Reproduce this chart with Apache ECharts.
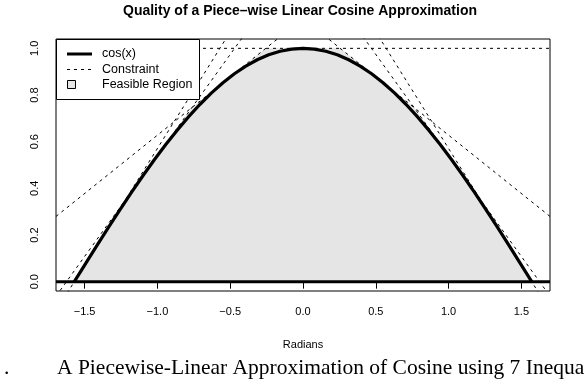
<!DOCTYPE html>
<html>
<head>
<meta charset="utf-8">
<script src="https://cdn.jsdelivr.net/npm/echarts@6/dist/echarts.min.js"></script>
<style>html,body{margin:0;padding:0;background:#fff}#c{width:584px;height:384px}</style>
</head>
<body>
<div id="c"></div>
<script>
// ---- data ----
var radians = [-1.5708,-1.4923,-1.4137,-1.3352,-1.2566,-1.1781,-1.0996,-1.0210,-0.9425,-0.8639,-0.7854,-0.7069,-0.6283,-0.5498,-0.4712,-0.3927,-0.3142,-0.2356,-0.1571,-0.0785,0,0.0785,0.1571,0.2356,0.3142,0.3927,0.4712,0.5498,0.6283,0.7069,0.7854,0.8639,0.9425,1.0210,1.0996,1.1781,1.2566,1.3352,1.4137,1.4923,1.5708];
var cosValues = [0,0.0785,0.1564,0.2334,0.3090,0.3827,0.4540,0.5225,0.5878,0.6494,0.7071,0.7604,0.8090,0.8526,0.8910,0.9239,0.9511,0.9724,0.9877,0.9969,1,0.9969,0.9877,0.9724,0.9511,0.9239,0.8910,0.8526,0.8090,0.7604,0.7071,0.6494,0.5878,0.5225,0.4540,0.3827,0.3090,0.2334,0.1564,0.0785,0];
// constraints: y <= intercept + slope * x  (tangents at 0, ±pi/6, ±pi/3, ±pi/2)
var constraintSlope = [0,-0.5,0.5,-0.866,0.866,-1,1];
var constraintIntercept = [1,1.1278,1.1278,1.4069,1.4069,1.5708,1.5708];
// feasible region vertices
var feasibleX = [-1.5708,-1.2231,-0.7626,-0.2556,0.2556,0.7626,1.2231,1.5708];
var feasibleY = [0,0.3477,0.7465,1,1,0.7465,0.3477,0];
var xTicks = [-1.5,-1.0,-0.5,0,0.5,1.0,1.5];
var yTicks = [0,0.2,0.4,0.6,0.8,1.0];
var xLim = [-1.6965,1.6965];
var yLim = [-0.04,1.04];
var titleText = 'Quality of a Piece\u2013wise Linear Cosine Approximation';
var xLabel = 'Radians';
var legendItems = ['cos(x)','Constraint','Feasible Region'];
var captionText = 'A Piecewise-Linear Approximation of Cosine using 7 Inequalities';

// ---- chart ----
var chart = echarts.init(document.getElementById('c'), null, {renderer:'canvas'});
function fmt(v){ var s = Math.abs(v).toFixed(1); return v < 0 ? '\u2212' + s : s; }
var series = [];
series.push({
  type:'line', data: feasibleX.map(function(x,i){return [x,feasibleY[i]];}),
  symbol:'none', lineStyle:{width:0}, areaStyle:{color:'#e5e5e5',opacity:1}, z:1, silent:true
});
constraintSlope.forEach(function(b,i){
  var a = constraintIntercept[i];
  series.push({
    type:'line', symbol:'none', clip:true, silent:true, z:3,
    data:[[xLim[0], a + b*xLim[0]],[xLim[1], a + b*xLim[1]]],
    lineStyle:{color:'#000',width:1,type:[3,4]}
  });
});
series.push({
  type:'line', symbol:'none', silent:true, z:4,
  data: radians.map(function(x,i){return [x,cosValues[i]];}),
  lineStyle:{color:'#000',width:3.2}
});
series.push({
  type:'line', symbol:'none', silent:true, z:4,
  data:[[xLim[0],0],[xLim[1],0]],
  lineStyle:{color:'#000',width:3}
});

var font = '"Liberation Sans", Arial, sans-serif';
var serif = '"Liberation Serif", "Times New Roman", serif';
chart.setOption({
  animation:false,
  grid:{left:56,right:34,top:39,bottom:93,show:true,borderColor:'#000',borderWidth:1,backgroundColor:'transparent'},
  xAxis:{type:'value',min:xLim[0],max:xLim[1],
    axisLine:{show:false},splitLine:{show:false},
    axisTick:{show:true,length:7,lineStyle:{color:'#000'},customValues:xTicks},
    axisLabel:{show:true,customValues:xTicks,formatter:fmt,margin:15,color:'#000',fontFamily:font,fontSize:11}
  },
  yAxis:{type:'value',min:yLim[0],max:yLim[1],
    axisLine:{show:false},splitLine:{show:false},
    axisTick:{show:true,length:7,lineStyle:{color:'#000'},customValues:yTicks},
    axisLabel:{show:true,customValues:yTicks,formatter:fmt,rotate:90,margin:16,color:'#000',fontFamily:font,fontSize:11}
  },
  series:series,
  graphic:[
    {type:'text',x:300,y:4,z:100,style:{text:titleText,font:'bold 14px '+font,fill:'#000',textAlign:'center'}},
    {type:'text',x:303,y:339,z:100,style:{text:xLabel,font:'11px '+font,fill:'#000',textAlign:'center'}},
    {type:'text',x:4,y:357,z:100,style:{text:'.',font:'21.5px '+serif,fill:'#000'}},
    {type:'text',x:57,y:357,z:100,style:{text:captionText,font:'21.5px '+serif,fill:'#000'}},
    {type:'rect',z:100,shape:{x:56.5,y:39.5,width:143,height:60},style:{fill:'#fff',stroke:'#000',lineWidth:1}},
    {type:'line',z:101,shape:{x1:67,y1:54,x2:92,y2:54},style:{stroke:'#000',lineWidth:3}},
    {type:'line',z:101,shape:{x1:67,y1:69.5,x2:92,y2:69.5},style:{stroke:'#000',lineWidth:1,lineDash:[3,4]}},
    {type:'rect',z:101,shape:{x:67.5,y:80.5,width:8,height:8},style:{fill:'#e5e5e5',stroke:'#000',lineWidth:1}},
    {type:'text',z:101,x:102,y:54,style:{text:legendItems[0],font:'12.5px '+font,fill:'#000',verticalAlign:'middle'}},
    {type:'text',z:101,x:102,y:69.5,style:{text:legendItems[1],font:'12.5px '+font,fill:'#000',verticalAlign:'middle'}},
    {type:'text',z:101,x:102,y:84.5,style:{text:legendItems[2],font:'12.5px '+font,fill:'#000',verticalAlign:'middle'}}
  ]
});
</script>
</body>
</html>
